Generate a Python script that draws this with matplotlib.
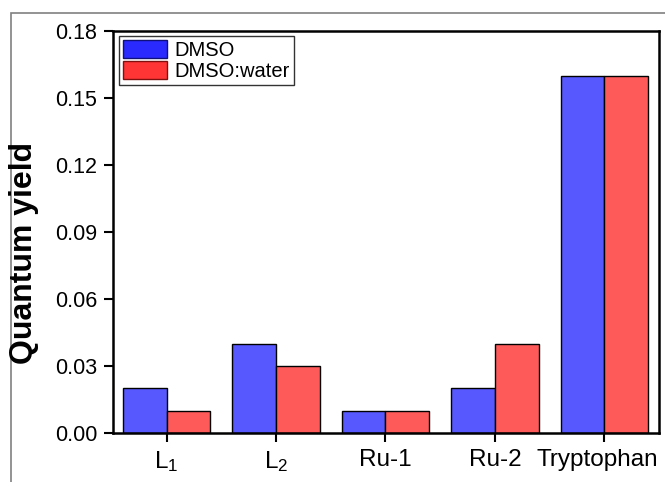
import numpy as np
import matplotlib.pyplot as plt
import matplotlib.transforms as mtransforms
from matplotlib.patches import Patch, Rectangle

plt.rcParams['font.family'] = ['Liberation Sans', 'DejaVu Sans']
plt.rcParams['mathtext.fontset'] = 'custom'
plt.rcParams['mathtext.rm'] = 'Liberation Sans'
plt.rcParams['mathtext.it'] = 'Liberation Sans'

# quantum yield per compound, two solvents
compounds = ['L$_1$', 'L$_2$', 'Ru-1', 'Ru-2', 'Tryptophan']
dmso = [0.02, 0.04, 0.01, 0.02, 0.16]
dmso_water = [0.01, 0.03, 0.01, 0.04, 0.16]
yticks = [0.00, 0.03, 0.06, 0.09, 0.12, 0.15, 0.18]

blue = '#5858ff'
red = '#ff5a5a'

fig = plt.figure(figsize=(6.65, 4.82), dpi=100)
ax = fig.add_axes([113 / 665, 49 / 482, 546 / 665, 402 / 482])

# thin grey frame around the whole graph
fig.patches.append(Rectangle((11 / 665, -0.1), 1.2, (482 - 13) / 482 + 0.1,
                             transform=fig.transFigure, fill=False,
                             edgecolor='#808080', linewidth=1.2))

x = np.arange(len(compounds))
w = 0.4
ax.bar(x - w / 2, dmso, w, color=blue, edgecolor='black', linewidth=1.0)
ax.bar(x + w / 2, dmso_water, w, color=red, edgecolor='black', linewidth=1.0)

ax.set_xlim(-0.49, 4.5)
ax.set_ylim(0, 0.18)
ax.set_xticks(x)
ax.set_xticklabels(compounds, fontsize=17.5)
ax.set_yticks(yticks)
ax.set_yticklabels([f'{v:.2f}' for v in yticks], fontsize=15.5)
ax.tick_params(direction='out', length=6.5, width=1.5, color='black', pad=5)
ax.tick_params(axis='x', pad=5)
for side in ['top', 'right', 'left', 'bottom']:
    ax.spines[side].set_linewidth(1.8)

# last label sits flush with the right edge
last = ax.get_xticklabels()[-1]
last.set_transform(last.get_transform() +
                   mtransforms.ScaledTranslation(-7 / 100, 0, fig.dpi_scale_trans))

fig.text(24 / 665, 1 - 253 / 482, 'Quantum yield', rotation=90,
         ha='center', va='center', fontsize=23, fontweight='bold')

handles = [Patch(facecolor='#2a2aff', edgecolor='#10107a', linewidth=1.0, label='DMSO'),
           Patch(facecolor='#ff3434', edgecolor='#801010', linewidth=1.0, label='DMSO:water')]
leg = ax.legend(handles=handles, loc='upper left', bbox_to_anchor=(0.011, 0.987),
                fontsize=14.5, frameon=True, fancybox=False, edgecolor='black',
                handlelength=2.2, handleheight=1.0, handletextpad=0.35,
                labelspacing=0.05, borderpad=0.2, borderaxespad=0)
leg.get_frame().set_linewidth(1.0)

fig.savefig('out.png', dpi=100)
